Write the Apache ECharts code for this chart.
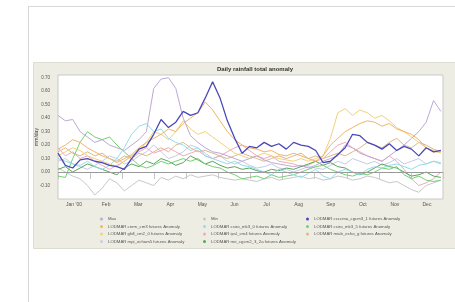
<!DOCTYPE html>
<html>
<head>
<meta charset="utf-8">
<style>
    html, body { margin: 0; padding: 0; background: #fff; }
    #echarts { width: 455px; height: 302px; }
</style>
</head>
<body>
<div id="echarts"></div>
<script src="https://cdn.jsdelivr.net/npm/echarts@6/dist/echarts.min.js"></script>
<script>
    // sample days (day of year, weekly)
    const days = [0, 7, 14, 21, 28, 35, 42, 49, 56, 63, 70, 77, 84, 91, 98, 105, 112, 119, 126, 133,
        140, 147, 154, 161, 168, 175, 182, 189, 196, 203, 210, 217, 224, 231, 238, 245, 252, 259, 266,
        273, 280, 287, 294, 301, 308, 315, 322, 329, 336, 343, 350, 357, 364];
    const months = ["Jan '00", 'Feb', 'Mar', 'Apr', 'May', 'Jun', 'Jul', 'Aug', 'Sep', 'Oct', 'Nov', 'Dec'];
    const yTicks = [-0.1, 0, 0.1, 0.2, 0.3, 0.4, 0.5, 0.6, 0.7];

    const maxVals = [0.42, 0.38, 0.39, 0.30, 0.26, 0.22, 0.24, 0.20, 0.18, 0.16, 0.20, 0.24, 0.30, 0.62, 0.69, 0.70, 0.62, 0.40, 0.27, 0.22,
        0.18, 0.15, 0.14, 0.12, 0.10, 0.08, 0.10, 0.12, 0.09, 0.07, 0.06, 0.05, 0.04, 0.05, 0.03, 0.05, 0.08, 0.10, 0.12,
        0.20, 0.18, 0.14, 0.12, 0.10, 0.08, 0.12, 0.16, 0.20, 0.25, 0.30, 0.37, 0.53, 0.45];
    const minVals = [0.03, 0.00, -0.03, -0.05, -0.10, -0.17, -0.12, -0.05, -0.08, -0.14, -0.10, -0.06, -0.08, -0.10, -0.04, -0.06, -0.03, -0.05, -0.02, -0.04,
        -0.03, -0.02, -0.04, -0.05, -0.06, -0.05, -0.06, -0.07, -0.05, -0.04, -0.06, -0.05, -0.04, -0.03, -0.05, -0.04, -0.06, -0.05, -0.03,
        -0.04, -0.06, -0.05, -0.03, -0.04, -0.06, -0.08, -0.07, -0.10, -0.13, -0.15, -0.10, -0.08, -0.06];
    const ccccma = [0.14, 0.05, 0.03, 0.09, 0.10, 0.08, 0.07, 0.05, 0.04, 0.02, 0.10, 0.17, 0.19, 0.28, 0.39, 0.33, 0.37, 0.45, 0.42, 0.44,
        0.55, 0.67, 0.55, 0.38, 0.25, 0.14, 0.19, 0.18, 0.22, 0.19, 0.21, 0.17, 0.22, 0.20, 0.19, 0.16, 0.07, 0.08, 0.13,
        0.18, 0.28, 0.27, 0.22, 0.20, 0.17, 0.21, 0.16, 0.19, 0.17, 0.12, 0.18, 0.15, 0.16];
    const cnrm = [0.17, 0.20, 0.24, 0.22, 0.18, 0.15, 0.12, 0.10, 0.07, 0.10, 0.13, 0.18, 0.22, 0.25, 0.28, 0.32, 0.30, 0.36, 0.40, 0.44,
        0.52, 0.46, 0.38, 0.30, 0.24, 0.20, 0.18, 0.17, 0.15, 0.16, 0.13, 0.12, 0.14, 0.12, 0.10, 0.08, 0.12, 0.20, 0.25,
        0.30, 0.33, 0.36, 0.38, 0.37, 0.34, 0.36, 0.32, 0.30, 0.28, 0.24, 0.18, 0.15, 0.15];
    const csiro30 = [0.10, 0.08, 0.06, 0.05, 0.08, 0.04, 0.02, 0.05, 0.10, 0.18, 0.28, 0.34, 0.36, 0.30, 0.32, 0.25, 0.22, 0.20, 0.16, 0.18,
        0.12, 0.10, 0.08, 0.06, 0.08, 0.05, 0.04, 0.02, 0.00, -0.02, 0.02, 0.00, -0.02, -0.04, -0.01, 0.02, -0.03, -0.05, 0.00,
        0.02, 0.00, -0.02, 0.02, 0.04, 0.03, 0.05, 0.06, 0.04, 0.02, 0.05, 0.06, 0.08, 0.06];
    const csiro35 = [-0.03, -0.04, 0.10, 0.22, 0.30, 0.26, 0.24, 0.26, 0.20, 0.15, 0.10, 0.05, 0.03, 0.05, 0.08, 0.06, 0.08, 0.10, 0.08, 0.10,
        0.06, 0.04, 0.03, 0.00, -0.02, -0.05, -0.04, -0.03, -0.05, -0.02, -0.04, -0.03, -0.02, 0.00, 0.02, 0.04, 0.05, 0.02, 0.00,
        -0.02, -0.03, -0.01, -0.02, 0.00, 0.03, 0.02, 0.04, -0.02, -0.05, -0.03, -0.06, -0.07, -0.06];
    const gfdl = [0.12, 0.15, 0.18, 0.16, 0.12, 0.10, 0.08, 0.06, 0.04, 0.08, 0.12, 0.16, 0.22, 0.30, 0.28, 0.24, 0.30, 0.38, 0.32, 0.28,
        0.30, 0.26, 0.22, 0.18, 0.14, 0.12, 0.10, 0.12, 0.14, 0.12, 0.10, 0.09, 0.08, 0.10, 0.08, 0.10, 0.12, 0.25, 0.44,
        0.47, 0.42, 0.46, 0.44, 0.40, 0.42, 0.38, 0.33, 0.30, 0.26, 0.22, 0.18, 0.16, 0.14];
    const ipsl = [0.18, 0.12, 0.15, 0.10, 0.12, 0.08, 0.05, 0.02, 0.05, 0.08, 0.12, 0.15, 0.18, 0.14, 0.16, 0.18, 0.15, 0.12, 0.14, 0.16,
        0.12, 0.10, 0.12, 0.15, 0.18, 0.20, 0.16, 0.12, 0.10, 0.12, 0.08, 0.07, 0.06, 0.04, 0.05, 0.08, 0.10, 0.15, 0.20,
        0.22, 0.18, 0.15, 0.12, 0.10, 0.08, 0.12, 0.08, 0.02, -0.05, -0.10, -0.08, -0.05, 0.00];
    const miub = [0.15, 0.18, 0.14, 0.12, 0.15, 0.12, 0.14, 0.10, 0.08, 0.12, 0.10, 0.14, 0.12, 0.15, 0.18, 0.15, 0.20, 0.22, 0.18, 0.15,
        0.16, 0.14, 0.12, 0.10, 0.12, 0.14, 0.12, 0.10, 0.08, 0.10, 0.12, 0.10, 0.12, 0.14, 0.10, 0.12, 0.10, 0.12, 0.14,
        0.12, 0.15, 0.18, 0.22, 0.20, 0.18, 0.22, 0.25, 0.20, 0.18, 0.22, 0.20, 0.17, 0.15];
    const mpi = [0.08, 0.10, 0.06, 0.04, 0.02, 0.05, 0.08, 0.12, 0.10, 0.06, 0.08, 0.12, 0.15, 0.20, 0.15, 0.10, 0.12, 0.15, 0.20, 0.18,
        0.14, 0.10, 0.12, 0.08, 0.06, 0.08, 0.05, 0.03, 0.04, 0.06, 0.03, 0.02, 0.00, 0.02, 0.04, 0.03, 0.02, 0.05, 0.08,
        0.06, 0.10, 0.08, 0.06, 0.08, 0.05, 0.07, 0.10, 0.06, 0.08, 0.10, 0.06, 0.08, 0.07];
    const mri = [0.02, 0.04, 0.00, 0.03, 0.06, 0.04, 0.02, 0.00, -0.02, 0.03, 0.06, 0.04, 0.08, 0.06, 0.10, 0.08, 0.05, 0.07, 0.12, 0.09,
        0.06, 0.08, 0.05, 0.03, 0.04, 0.02, 0.03, 0.01, 0.00, 0.02, 0.01, 0.03, 0.02, 0.04, 0.06, 0.08, 0.05, 0.07, 0.04,
        0.03, 0.00, -0.02, 0.00, 0.03, 0.06, 0.04, 0.03, 0.00, -0.03, -0.02, 0.00, -0.03, -0.04];

    const names = {
        max: 'Max',
        min: 'Min',
        ccccma: 'LODMAR ccccma_cgcm3_1 futures Anomaly',
        cnrm: 'LODMAR cnrm_cm3 futures Anomaly',
        csiro30: 'LODMAR csiro_mk3_0 futures Anomaly',
        csiro35: 'LODMAR csiro_mk3_5 futures Anomaly',
        gfdl: 'LODMAR gfdl_cm2_0 futures Anomaly',
        ipsl: 'LODMAR ipsl_cm4 futures Anomaly',
        miub: 'LODMAR miub_echo_g futures Anomaly',
        mpi: 'LODMAR mpi_echam5 futures Anomaly',
        mri: 'LODMAR mri_cgcm2_3_2a futures Anomaly'
    };

    function line(name, vals, color, width, z) {
        return {
            name: name,
            type: 'line',
            xAxisIndex: 1,
            symbol: 'none',
            z: z || 2,
            data: days.map((d, i) => [d, vals[i]]),
            lineStyle: { color: color, width: width || 1 },
            itemStyle: { color: color }
        };
    }

    let series = [
        line(names.min, minVals, '#c8c8cc'),
        line(names.mpi, mpi, '#c6cbe6'),
        line(names.miub, miub, '#d9b98c'),
        line(names.ipsl, ipsl, '#f0a9bd'),
        line(names.mri, mri, '#5aa65a'),
        line(names.csiro35, csiro35, '#74d074'),
        line(names.csiro30, csiro30, '#8fdde8'),
        line(names.gfdl, gfdl, '#f1d27a'),
        line(names.cnrm, cnrm, '#f0b46a'),
        line(names.max, maxVals, '#bda8d6'),
        line(names.ccccma, ccccma, '#4a48b8', 1.3, 5)
    ];
    // zero line
    series[0].markLine = {
        silent: true, symbol: 'none', label: { show: false },
        lineStyle: { color: '#9a9a9a', width: 1, type: 'solid' },
        data: [{ yAxis: 0 }]
    };

    const legendBase = {
        orient: 'vertical',
        top: 212,
        itemWidth: 7,
        itemHeight: 3,
        itemGap: 3.5,
        icon: 'circle',
        textStyle: { fontSize: 4.3, color: '#555', fontFamily: 'Liberation Sans', padding: [0, 0, 0, -2] },
        selectedMode: false
    };

    let myChart = echarts.init(document.getElementById('echarts'));
    myChart.setOption({
        animation: false,
        backgroundColor: '#fff',
        graphic: [
            { type: 'line', shape: { x1: 28, y1: 6.5, x2: 455, y2: 6.5 }, style: { stroke: '#d8d8d8', lineWidth: 1 } },
            { type: 'line', shape: { x1: 28.5, y1: 6, x2: 28.5, y2: 302 }, style: { stroke: '#d8d8d8', lineWidth: 1 } },
            { type: 'rect', z: -10, shape: { x: 33.5, y: 62.5, width: 430, height: 186 }, style: { fill: '#eeede3', stroke: '#dddcd0', lineWidth: 1 } }
        ],
        title: {
            text: 'Daily rainfall total anomaly',
            left: 250,
            textAlign: 'center',
            top: 61,
            textStyle: { fontSize: 6, fontWeight: 'bold', color: '#333', fontFamily: 'Liberation Sans' }
        },
        legend: [
            Object.assign({ left: 95, data: [names.max, names.cnrm, names.gfdl, names.mpi] }, legendBase),
            Object.assign({ left: 198, data: [names.min, names.csiro30, names.ipsl, names.mri] }, legendBase),
            Object.assign({ left: 301, data: [names.ccccma, names.csiro35, names.miub] }, legendBase)
        ],
        grid: {
            left: 58, top: 75, right: 12, bottom: 103,
            show: true, backgroundColor: '#fff', borderColor: '#c8c8c8', borderWidth: 1
        },
        xAxis: [
            {
                type: 'category',
                data: months,
                boundaryGap: true,
                axisLine: { show: false },
                axisTick: { show: true, length: 7, lineStyle: { color: '#c8c8c8' } },
                axisLabel: { fontSize: 5, color: '#555', margin: 3, fontFamily: 'Liberation Sans' },
                splitLine: { show: false }
            },
            {
                type: 'value',
                min: 0,
                max: 366,
                show: false
            }
        ],
        yAxis: {
            type: 'value',
            min: -0.2,
            max: 0.72,
            interval: 0.1,
            name: 'mm/day',
            nameLocation: 'middle',
            nameGap: 19,
            nameMoveOverlap: false,
            nameRotate: 90,
            nameTextStyle: { fontSize: 5, color: '#444', fontFamily: 'Liberation Sans' },
            axisLine: { show: false },
            axisTick: { show: false },
            splitLine: { show: false },
            axisLabel: {
                fontSize: 4.5, color: '#555', margin: 8, fontFamily: 'Liberation Sans',
                formatter: function (v) {
                    let hit = yTicks.find(t => Math.abs(t - v) < 1e-6);
                    return hit === undefined ? '' : hit.toFixed(2);
                }
            }
        },
        series: series
    });
</script>
</body>
</html>
